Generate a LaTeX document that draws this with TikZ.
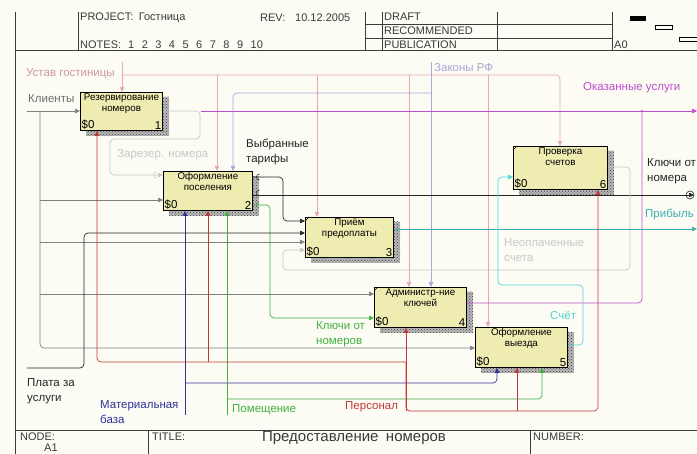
\documentclass[tikz,border=0pt]{standalone}
\usepackage{fontspec}
\setmainfont{Liberation Sans}
\usetikzlibrary{arrows.meta,patterns}

\definecolor{paper}{HTML}{FCFBF4}
\definecolor{boxfill}{HTML}{EFECB2}
\definecolor{frameink}{HTML}{3A3A3A}
\definecolor{cgray}{HTML}{808080}
\definecolor{clight}{HTML}{C8C8C8}
\definecolor{cpink}{HTML}{E6A8B8}
\definecolor{clav}{HTML}{A8A8DC}
\definecolor{cpurp}{HTML}{C04CD0}
\definecolor{cteal}{HTML}{3CAEB0}
\definecolor{ccyan}{HTML}{50D4D8}
\definecolor{cgreen}{HTML}{40B040}
\definecolor{cred}{HTML}{C03838}
\definecolor{cblue}{HTML}{30309C}
\definecolor{cblack}{HTML}{262626}

\tikzset{
  box/.style={draw=black, line width=0.9pt, fill=boxfill, inner sep=0pt},
  btitle/.style={font=\fontsize{9.8}{11}\selectfont, align=center, inner sep=1.5pt},
  bnum/.style={font=\fontsize{11.5}{12}\selectfont, inner sep=1.5pt},
  lbl/.style={font=\fontsize{11.5}{14.5}\selectfont, align=left, inner sep=0pt, anchor=west},
  hdr/.style={font=\fontsize{11}{12}\selectfont, text=frameink, inner sep=0pt, anchor=west},
  conn/.style={line width=0.7pt, rounded corners=4pt},
  arr/.style={-{Triangle[length=5pt,width=4.5pt]}},
  tunnel/.style={line width=0.5pt},
}

% one IDEF0 activity box with its hatched shadow
\newcommand\idefbox[7]{%
  \fill[black!28] ({#2+6},{#3+5}) rectangle ({#2+#4+7},{#3+#5+6});
  \fill[pattern=crosshatch dots, pattern color=black!75] ({#2+6},{#3+5}) rectangle ({#2+#4+7},{#3+#5+6});
  \node[box, minimum width=#4pt, minimum height=#5pt, anchor=north west] (#1) at (#2,#3) {};
  \node[btitle, anchor=north] at (#1.north) {#6};
  \node[bnum, anchor=south west] at (#1.south west) {\$0};
  \node[bnum, anchor=south east] at (#1.south east) {#7};
}
% small corner tick of a decomposed box
\newcommand\cornertick[1]{\draw[line width=0.5pt] ([yshift=-4pt]#1.north west) -- ([xshift=4pt]#1.north west);}
% tunnel bracket "(" at a point
\newcommand\tunnelmark[3][cblack]{\draw[tunnel, #1] ({#2+1.5},{#3-3}) arc[start angle=90, end angle=270, radius=3pt];}
% evenly spaced note numbers
\newcommand\notenums{1\hspace{7.5pt}2\hspace{7.5pt}3\hspace{7.5pt}4\hspace{7.5pt}5\hspace{7.5pt}6\hspace{7.5pt}7\hspace{7.5pt}8\hspace{7.5pt}9\hspace{7.5pt}10}

\begin{document}
\begin{tikzpicture}[x=1pt, y=-1pt]
\useasboundingbox (0,0) rectangle (697,454);
\fill[paper] (0,0) rectangle (697,454);

% ---------- frame ----------
\begin{scope}[draw=frameink, line width=0.8pt]
  \draw (15,12) -- (15,454);
  \draw (15,50) -- (697,50);
  \draw (78,12) -- (78,50);
  \draw (365,12) -- (365,50);
  \draw (382,12) -- (382,50);
  \draw (497,12) -- (497,50);
  \draw (612,12) -- (612,50);
  \draw (365,24) -- (612,24);
  \draw (365,38) -- (612,38);
  \draw (15,430) -- (697,430);
  \draw (148,430) -- (148,454);
  \draw (530,430) -- (530,454);
\end{scope}
\node[hdr] (hproj) at (80,18) {PROJECT:\enspace Гостница};
\node[hdr] (hrev) at (260,18) {REV:};
\node[hdr] (hdate) at (295,18) {10.12.2005};
\node[hdr] (hnotes) at (80,45) {NOTES:\hspace{7pt}\notenums};
\node[hdr] (hdraft) at (384,17) {DRAFT};
\node[hdr] (hrec) at (384,31) {RECOMMENDED};
\node[hdr] (hpub) at (384,45) {PUBLICATION};
\node[hdr] (hctx) at (614,45) {A0};
\fill[black] (630,16) rectangle (646,21);
\draw[line width=0.6pt] (655,25) rectangle (672,29);
\draw[line width=0.6pt] (679,37) rectangle (697,41);
\node[hdr] (fnode) at (20,437) {NODE:};
\node[hdr] (fnum) at (44,448) {A1};
\node[hdr] (ftitle) at (152,437) {TITLE:};
\node[hdr, font=\fontsize{15}{16}\selectfont, anchor=center] (fname) at (354,438) {Предоставление\enspace номеров};
\node[hdr] (fnumber) at (533,437) {NUMBER:};

% ---------- activities ----------
\idefbox{b1}{80}{92}{82}{38}{Резервирование\\номеров}{1}
\idefbox{b2}{163}{171}{89}{39}{Оформление\\поселения}{2}
\idefbox{b3}{305}{217}{88}{40}{Приём\\предоплаты}{3}
\idefbox{b4}{374}{287}{92}{40}{Администр-ние\\ключей}{4}
\idefbox{b5}{475}{327}{92}{40}{Оформление\\выезда}{5}
\idefbox{b6}{513}{146}{94}{43}{Проверка\\счетов}{6}
\cornertick{b3}
\cornertick{b4}
\cornertick{b6}

% ---------- free ends ----------
\coordinate (kl) at (27,111);
\coordinate (ust) at (122,62);
\coordinate (zak) at (431,62);
\coordinate (plata) at (27,368);
\coordinate (mat) at (185,415);
\coordinate (pom) at (227,415);
\coordinate (uslstart) at (201,111);
\coordinate (usl) at (697,111);
\coordinate (keys) at (690,195);
\coordinate (prib) at (697,229);

% ---------- inputs: Клиенты ----------
\begin{scope}[cgray]
  \draw[conn, arr] (kl) -- (b1.west |- kl);
  \draw[conn, arr] (40,111) -- (40,348) -- (b5.west |- 0,348);
  \draw[conn, arr] (40,200) -- (b2.west |- 0,200);
  \draw[conn, arr] (40,242) -- (b3.west |- 0,242);
  \draw[conn, arr] (40,294) -- (b4.west |- 0,294);
\end{scope}

% ---------- controls ----------
\begin{scope}[cpink]
  \draw[conn, arr] (ust) -- (b1.north -| ust);
  \draw[conn, arr] (122,75) -- (560,75) -- (b6.north -| 560,0);
  \draw[conn, arr] (217,75) -- (b2.north -| 217,0);
  \draw[conn, arr] (317,75) -- (b3.north -| 317,0);
  \draw[conn, arr] (409,75) -- (b4.north -| 409,0);
  \draw[conn, arr] (488,75) -- (b5.north -| 488,0);
\end{scope}
\begin{scope}[clav]
  \draw[conn, arr] (zak) -- (b4.north -| zak);
  \draw[conn, arr] (431,93) -- (233,93) -- (b2.north -| 233,0);
\end{scope}

% ---------- outputs and feedback ----------
\draw[cpurp, conn, arr] (uslstart) -- (usl);
\draw[cpurp, conn] (b4.east |- 0,303) -- (642,303) -- (642,111);
\fill[cpurp] (642,111) circle (1.2pt);

\draw[clight, conn, arr] (b1.east |- 0,111) -- (200,111) -- (200,139) -- (110,139) -- (110,175) -- (b2.west |- 0,175);
\tunnelmark[clight]{155}{175}

\draw[cblack, conn, arr] (b2.east |- 0,177) -- (283,177) -- (283,221) -- (b3.west |- 0,221);
\draw[cblack, conn] (b2.east |- 0,195) -- ([xshift=-4pt]keys);
\draw[cblack, line width=0.6pt] (keys) circle (4pt);
\draw[cblack, line width=0.6pt, arr] ([xshift=-4pt]keys) -- ([xshift=4pt]keys);
\draw[cgreen, conn, arr] (b2.east |- 0,205) -- (270,205) -- (270,318) -- (b4.west |- 0,318);
\tunnelmark{258}{177}
\tunnelmark{258}{193}
\tunnelmark[cgreen]{258}{205}

\draw[cblack, conn, arr] (plata) -- (84,368) -- (84,233) -- (b3.west |- 0,233);
\draw[clight, conn, arr] (b6.east |- 0,167) -- (630,167) -- (630,270) -- (283,270) -- (283,250) -- (b3.west |- 0,250);
\draw[cteal, conn, arr] (b3.east |- 0,229) -- (prib);
\draw[ccyan, conn, arr] (b5.east |- 0,345) -- (583,345) -- (583,285) -- (498,285) -- (498,177) -- (b6.west |- 0,177);

% ---------- mechanisms ----------
\begin{scope}[cblue]
  \draw[conn, arr] (mat) -- (b2.south -| mat);
  \draw[conn, arr] (185,383) -- (497,383) -- (b5.south -| 497,0);
\end{scope}
\begin{scope}[cgreen]
  \draw[conn, arr] (pom) -- (b2.south -| pom);
  \draw[conn, arr] (227,399) -- (542,399) -- (b5.south -| 542,0);
\end{scope}
\begin{scope}[cred]
  \draw[conn, arr] (406,362) -- (97,362) -- (b1.south -| 97,0);
  \draw[conn, arr] (208,362) -- (b2.south -| 208,0);
  \draw[conn, arr] (406,411) -- (b4.south -| 406,0);
  \draw[conn, arr] (406,362) -- (406,411) -- (598,411) -- (b6.south -| 598,0);
  \draw[conn, arr] (517,411) -- (b5.south -| 517,0);
\end{scope}

% ---------- arrow labels ----------
\node[lbl, text=cpink!90!black] (tust) at (26,74) {Устав гостиницы};
\node[lbl, text=cgray!85!black] (tkl) at (28,99) {Клиенты};
\node[lbl, text=clight] (tzar) at (117,155) {Зарезер. номера};
\node[lbl, text=cblack] (tvyb) at (246,152) {Выбранные\\тарифы};
\node[lbl, text=clav] (tzak) at (434,68) {Законы РФ};
\node[lbl, text=cpurp] (tusl) at (583,88) {Оказанные услуги};
\node[lbl, text=cblack] (tkeys) at (647,171) {Ключи от\\номера};
\node[lbl, text=cteal] (tprib) at (645,214) {Прибыль};
\node[lbl, text=clight] (tneo) at (504,250) {Неоплаченные\\счета};
\node[lbl, text=ccyan] (tschet) at (550,316) {Счёт};
\node[lbl, text=cgreen] (tkn) at (316,334) {Ключи от\\номеров};
\node[lbl, text=cblack] (tplata) at (27,391) {Плата за\\услуги};
\node[lbl, text=cblue] (tmat) at (100,412) {Материальная\\база};
\node[lbl, text=cgreen] (tpom) at (232,410) {Помещение};
\node[lbl, text=cred] (tper) at (345,407) {Персонал};
\end{tikzpicture}
\end{document}
